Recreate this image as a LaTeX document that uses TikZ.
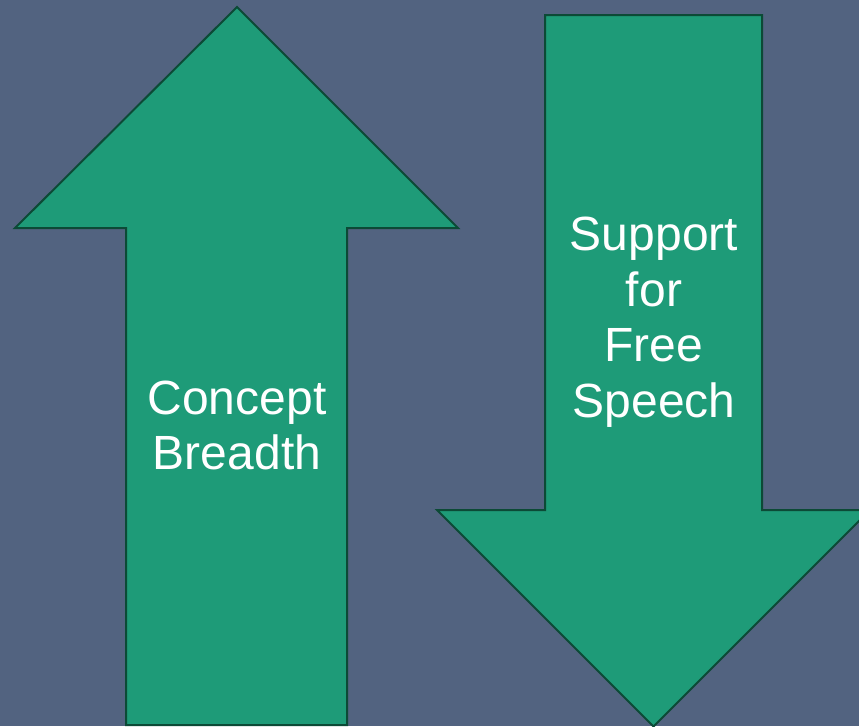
\documentclass[tikz,border=0pt]{standalone}
\usepackage{fontspec}
\setmainfont{Liberation Sans}
\definecolor{bgc}{HTML}{526380}
\definecolor{arrowfill}{HTML}{1E9B78}
\definecolor{arrowline}{HTML}{0C4A36}
\begin{document}
\begin{tikzpicture}[x=1pt,y=-1pt,
  bigarrow/.style={fill=arrowfill,draw=arrowline,line width=2pt,line join=miter},
  label/.style={text=white,align=center,inner sep=0pt,font=\fontsize{48}{55.5}\selectfont}]
\fill[bgc] (0,0) rectangle (859,726);
\useasboundingbox (0,0) rectangle (859,726);
\draw[bigarrow] (237,7) -- (458,228) -- (347,228) -- (347,725) -- (126,725) -- (126,228) -- (15,228) -- cycle;
\draw[bigarrow] (545,15) -- (762,15) -- (762,510) -- (870,510) -- (653.5,726.5) -- (437,510) -- (545,510) -- cycle;
\node[label] (up) at (237,425.5) {Concept\\Breadth};
\node[label] (down) at (654,322) {Support\\for\\Free\\Speech};
\end{tikzpicture}
\end{document}
